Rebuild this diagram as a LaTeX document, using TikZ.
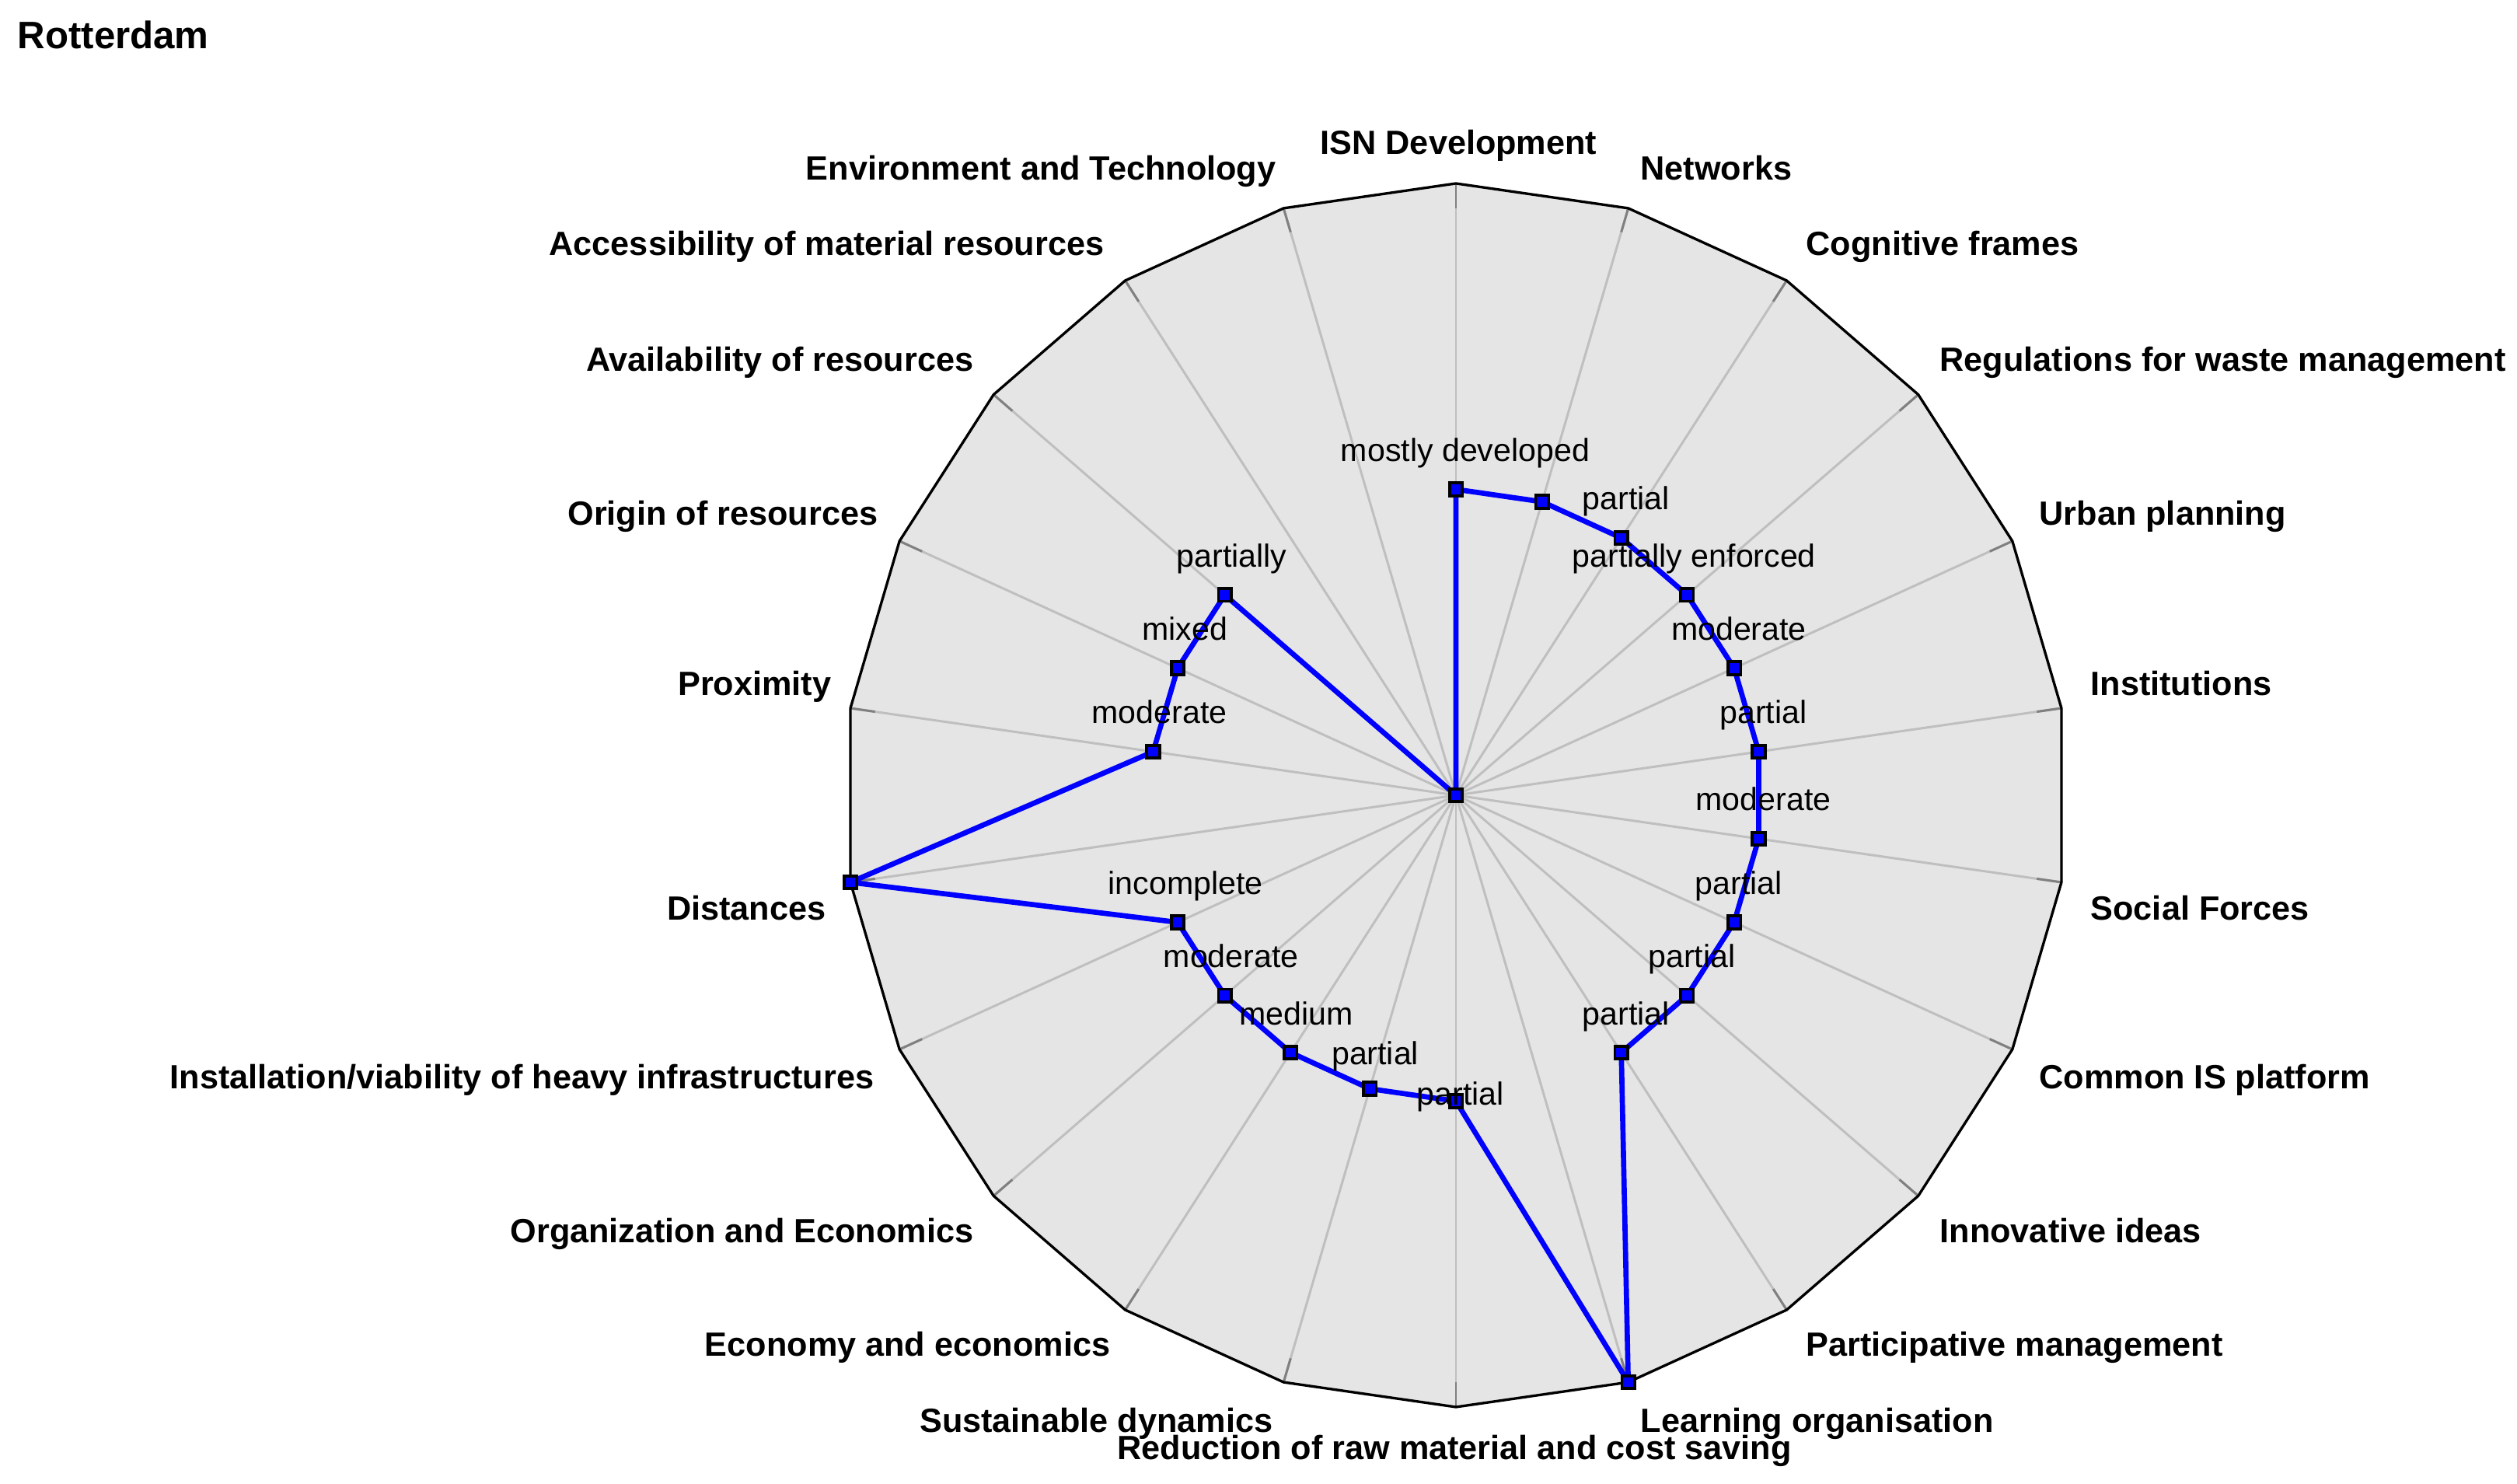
\documentclass[tikz,border=0pt]{standalone}
\usepackage{fontspec}
\setmainfont{Liberation Sans}
\tikzset{
    spoke/.style={line width=0.85pt, gray!50},
    spokeend/.style={line width=0.85pt, gray},
    rim/.style={line width=0.95pt, black, line join=miter},
    valueline/.style={line width=1.9pt, blue, line join=round},
    valuemark/.style={rectangle, draw=black, fill=blue, line width=1.05pt, minimum size=4.7pt, inner sep=0pt},
    axislabel/.style={font=\fontsize{12.3}{14}\selectfont\bfseries, inner sep=0pt},
    valuelabel/.style={font=\fontsize{11.7}{14}\selectfont, inner sep=0pt},
}
\begin{document}
\begin{tikzpicture}
    \useasboundingbox (-18.73,-8.86) rectangle (13.65,10.23);
    \def\R{7.87}
    % grid
    \fill[gray!20] (90:\R) \foreach \i in {1,...,21} { -- ({90-\i*360/22}:\R) } -- cycle;
    \foreach \i in {0,...,21} {
        \draw[spoke] (0,0) -- ({90-\i*360/22}:\R);
        \draw[spokeend] ({90-\i*360/22}:\R-0.32) -- ({90-\i*360/22}:\R);
    }
    \draw[rim] (90:\R) \foreach \i in {1,...,21} { -- ({90-\i*360/22}:\R) } -- cycle;
    % values
    \foreach \i/\v in {0/0.5,1/0.5,2/0.5,3/0.5,4/0.5,5/0.5,6/0.5,7/0.5,8/0.5,9/0.5,10/1,
                       11/0.5,12/0.5,13/0.5,14/0.5,15/0.5,16/1,17/0.5,18/0.5,19/0.5,20/0,21/0}
        \coordinate (v\i) at ({90-\i*360/22}:\v*\R);
    \draw[valueline] (v0) -- (v1) -- (v2) -- (v3) -- (v4) -- (v5) -- (v6) -- (v7) -- (v8) -- (v9) -- (v10)
        -- (v11) -- (v12) -- (v13) -- (v14) -- (v15) -- (v16) -- (v17) -- (v18) -- (v19) -- (v20) -- (v21) -- cycle;
    \foreach \i in {0,...,21}
        \node[valuemark] (m\i) at (v\i) {};
    % value labels
    \node[valuelabel, anchor=base] (l0) at ([shift={(0.12,0.36)}]v0) {mostly developed};
    \node[valuelabel, anchor=base] (l2) at ([shift={(0.06,0.36)}]v2) {partial};
    \node[valuelabel, anchor=base] (l3) at ([shift={(0.09,0.36)}]v3) {partially enforced};
    \node[valuelabel, anchor=base] (l4) at ([shift={(0.06,0.36)}]v4) {moderate};
    \node[valuelabel, anchor=base] (l5) at ([shift={(0.06,0.36)}]v5) {partial};
    \node[valuelabel, anchor=base] (l6) at ([shift={(0.06,0.36)}]v6) {moderate};
    \node[valuelabel, anchor=base] (l7) at ([shift={(0.06,0.36)}]v7) {partial};
    \node[valuelabel, anchor=base] (l8) at ([shift={(0.06,0.36)}]v8) {partial};
    \node[valuelabel, anchor=base] (l9) at ([shift={(0.06,0.36)}]v9) {partial};
    \node[valuelabel, anchor=base] (l11) at ([shift={(0.06,-0.05)}]v11) {partial};
    \node[valuelabel, anchor=base] (l12) at ([shift={(0.07,0.31)}]v12) {partial};
    \node[valuelabel, anchor=base] (l13) at ([shift={(0.07,0.36)}]v13) {medium};
    \node[valuelabel, anchor=base] (l14) at ([shift={(0.08,0.36)}]v14) {moderate};
    \node[valuelabel, anchor=base] (l15) at ([shift={(0.10,0.36)}]v15) {incomplete};
    \node[valuelabel, anchor=base] (l17) at ([shift={(0.08,0.36)}]v17) {moderate};
    \node[valuelabel, anchor=base] (l18) at ([shift={(0.09,0.36)}]v18) {mixed};
    \node[valuelabel, anchor=base] (l19) at ([shift={(0.09,0.36)}]v19) {partially};
    % axis labels
    \node[axislabel, anchor=base] (a0) at (0.035,8.24) {ISN Development};
    \node[axislabel, anchor=base west] (a1) at (2.37,7.91) {Networks};
    \node[axislabel, anchor=base west] (a2) at (4.50,6.94) {Cognitive frames};
    \node[axislabel, anchor=base west] (a3) at (6.22,5.45) {Regulations for waste management};
    \node[axislabel, anchor=base west] (a4) at (7.50,3.47) {Urban planning};
    \node[axislabel, anchor=base west] (a5) at (8.16,1.28) {Institutions};
    \node[axislabel, anchor=base west] (a6) at (8.16,-1.61) {Social Forces};
    \node[axislabel, anchor=base west] (a7) at (7.50,-3.78) {Common IS platform};
    \node[axislabel, anchor=base west] (a8) at (6.22,-5.76) {Innovative ideas};
    \node[axislabel, anchor=base west] (a9) at (4.50,-7.22) {Participative management};
    \node[axislabel, anchor=base west] (a10) at (2.37,-8.20) {Learning organisation};
    \node[axislabel, anchor=base] (a11) at (-0.02,-8.55) {Reduction of raw material and cost saving};
    \node[axislabel, anchor=base east] (a12) at (-2.35,-8.20) {Sustainable dynamics};
    \node[axislabel, anchor=base east] (a13) at (-4.44,-7.22) {Economy and economics};
    \node[axislabel, anchor=base east] (a14) at (-6.20,-5.76) {Organization and Economics};
    \node[axislabel, anchor=base east] (a15) at (-7.48,-3.78) {Installation/viability of heavy infrastructures};
    \node[axislabel, anchor=base east] (a16) at (-8.10,-1.61) {Distances};
    \node[axislabel, anchor=base east] (a17) at (-8.03,1.28) {Proximity};
    \node[axislabel, anchor=base east] (a18) at (-7.43,3.47) {Origin of resources};
    \node[axislabel, anchor=base east] (a19) at (-6.20,5.45) {Availability of resources};
    \node[axislabel, anchor=base east] (a20) at (-4.52,6.94) {Accessibility of material resources};
    \node[axislabel, anchor=base east] (a21) at (-2.31,7.91) {Environment and Technology};
    % title
    \node[font=\fontsize{14}{16}\selectfont\bfseries, anchor=base west, inner sep=0pt] (title) at (-18.51,9.60) {Rotterdam};
\end{tikzpicture}
\end{document}
